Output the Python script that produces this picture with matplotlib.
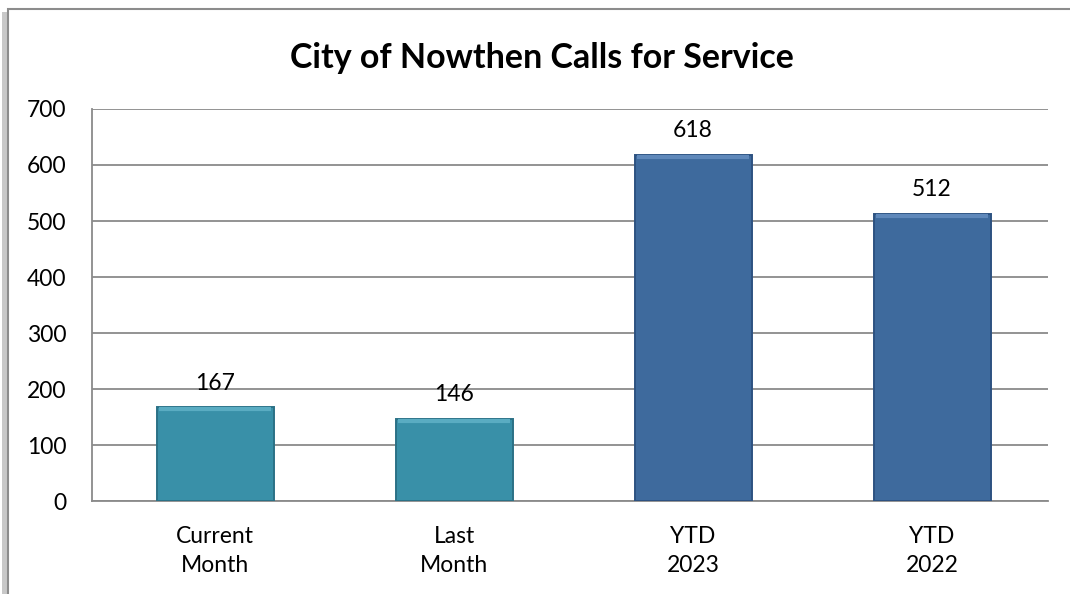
"""City of Nowthen calls for service, bar chart."""
import matplotlib
matplotlib.use("Agg")
import matplotlib.pyplot as plt
from matplotlib.patches import Rectangle

categories = ["Current\nMonth", "Last\nMonth", "YTD\n2023", "YTD\n2022"]
calls = [167, 146, 618, 512]
bar_colors = ["#3990A8", "#3990A8", "#3E6A9D", "#3E6A9D"]
edge_colors = ["#2B7186", "#2B7186", "#2D5281", "#2D5281"]
top_colors = ["#5AACC2", "#5AACC2", "#5F88BA", "#5F88BA"]
yticks = [0, 100, 200, 300, 400, 500, 600, 700]

plt.rcParams["font.family"] = ["Lato", "DejaVu Sans"]

fig = plt.figure(figsize=(10.7, 5.94), dpi=100)

# outer chart frame with a soft shadow on the left
fig.patches.append(Rectangle((0.002, -0.02), 0.01, 1.0, transform=fig.transFigure,
                             facecolor="#c8c8c8", edgecolor="none", zorder=0))
fig.patches.append(Rectangle((0.0075, -0.02), 1.1, 1.005, transform=fig.transFigure,
                             facecolor="white", edgecolor="#8c8c8c", linewidth=1.5, zorder=1))

ax = fig.add_axes([92 / 1070, 1 - 501 / 594, (1048 - 92) / 1070, (501 - 109) / 594])
ax.set_facecolor("none")
ax.set_zorder(2)

x = range(len(categories))
bars = ax.bar(x, calls, width=0.49, color=bar_colors, edgecolor=edge_colors,
              linewidth=1.4, zorder=3)
for rect, v, tc in zip(bars, calls, top_colors):
    x0 = rect.get_x()
    x1 = x0 + rect.get_width()
    # lighter bevel along the top of each bar
    ax.hlines(v - 3, x0 + 0.01, x1 - 0.01, color=tc, linewidth=3, zorder=4)
    ax.annotate(str(v), ((x0 + x1) / 2, v),
                xytext=(0, 10), textcoords="offset points",
                ha="center", va="bottom", fontsize=16.5, color="black")

ax.set_xlim(-0.515, len(categories) - 0.515)
ax.set_ylim(0, 700)
ax.set_yticks(yticks)
ax.set_xticks(list(x))
ax.set_xticklabels(categories, fontsize=16.5, linespacing=1.45)
ax.tick_params(axis="y", labelsize=16.5, length=0, pad=18.5)
ax.tick_params(axis="x", length=0, pad=18)
ax.yaxis.grid(True, color="#8a8a8a", linewidth=1.3, zorder=1)
ax.set_axisbelow(True)
for side in ["top", "right"]:
    ax.spines[side].set_visible(False)
for side in ["left", "bottom"]:
    ax.spines[side].set_color("#8a8a8a")
    ax.spines[side].set_linewidth(1.3)

fig.text(542 / 1070, 1 - 58 / 594, "City of Nowthen Calls for Service",
         ha="center", va="center", fontsize=24.5, fontweight="bold")

fig.savefig("out.png", dpi=100)
plt.close(fig)
